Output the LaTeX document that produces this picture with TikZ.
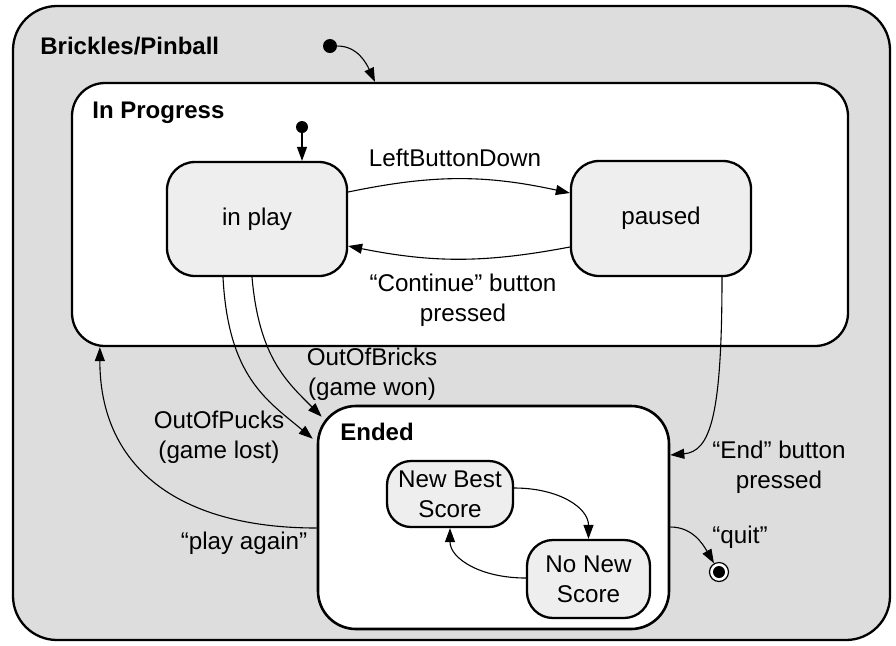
\documentclass[tikz,border=0pt]{standalone}
\usepackage{fontspec}
\setmainfont{Liberation Sans}
\usetikzlibrary{arrows.meta,calc}
\definecolor{bggray}{HTML}{DDDDDD}
\definecolor{stategray}{HTML}{EEEEEE}
\begin{document}
\begin{tikzpicture}[x=0.5pt,y=-0.5pt,
  font=\fontsize{12.1}{15}\selectfont,
  box/.style={draw, line width=1.15pt, inner sep=0pt},
  stbox/.style={box, fill=stategray, rounded corners=14pt, align=center},
  arr/.style={-{Triangle[length=7pt,width=5pt]}, line width=0.55pt},
  lbl/.style={align=center, inner sep=0pt},
  ttl/.style={anchor=base west, inner sep=0pt, font=\fontsize{12}{15}\selectfont\bfseries},
  dot/.style={circle, fill=black, inner sep=0pt}]
\useasboundingbox (0,0) rectangle (896,645);
% containers
\node[box, fill=bggray, rounded corners=22pt, minimum width=438.5pt, minimum height=317pt] (outer) at (451.5,323) {};
\node[box, fill=white, rounded corners=16.5pt, minimum width=388pt, minimum height=131.5pt] (inprog) at (460,214.5) {};
\node[box, fill=white, rounded corners=19pt, line width=1.3pt, minimum width=175.5pt, minimum height=111.5pt] (ended) at (493.5,517.5) {};
% titles
\node[ttl] (tBP) at (40,54.5) {Brickles/Pinball};
\node[ttl] (tIP) at (92,118.5) {In Progress};
\node[ttl] (tEn) at (340,440.5) {Ended};
% states
\node[stbox, minimum width=90pt, minimum height=57pt] (inplay) at (257,219) {in play};
\node[stbox, minimum width=90pt, minimum height=57.5pt] (paused) at (661,218.5) {paused};
\node[stbox, rounded corners=12pt, minimum width=63pt, minimum height=33pt] (newbest) at (450,494) {New Best\\Score};
\node[stbox, rounded corners=13pt, minimum width=61.5pt, minimum height=39pt] (nonew) at (588.5,579) {No New\\Score};
% initial and final pseudo-states
\node[dot, minimum size=7pt] (i1) at (330,46) {};
\node[dot, minimum size=6pt] (i2) at (302,127) {};
\node[circle, draw, line width=0.6pt, fill=white, minimum size=9.5pt, inner sep=0pt] (fin) at (719,572) {};
\node[dot, minimum size=6pt] (fin2) at (fin.center) {};
% transitions
\draw[arr] (i1) to[out=0, in=115] ([xshift=-42.5pt]inprog.north);
\draw[arr] (i2) -- ([xshift=22.5pt]inplay.north);
\draw[arr] ([yshift=13.5pt]inplay.east) to[bend left=12] ([yshift=12.75pt]paused.west);
\draw[arr] ([yshift=-14.25pt]paused.west) to[bend left=11] ([yshift=-13.5pt]inplay.east);
\draw[arr] ([xshift=30.5pt]paused.south) to[out=-90, in=5, out distance=70pt, in distance=20pt] ([yshift=31.25pt]ended.east);
\draw[arr] ([yshift=-4.75pt]ended.east) to[out=0, in=120] (fin);
\draw[arr] ([xshift=-2.5pt]inplay.south) to[out=-85, in=135, out distance=40pt, in distance=25pt] ([xshift=2.5pt,yshift=-6pt]ended.north west);
\draw[arr] ([xshift=-17pt]inplay.south) to[out=-87, in=140, out distance=50pt, in distance=30pt] ([xshift=-2pt,yshift=-17pt]ended.north west);
\draw[arr] ([yshift=-5.25pt]ended.west) to[out=180, in=-90, out distance=70.5pt, in distance=59pt] ([xshift=14.5pt]inprog.south west);
\draw[arr] ([yshift=3pt]newbest.east) to[out=0, in=90, out distance=22.5pt, in distance=15.5pt] (nonew.north);
\draw[arr] ([yshift=0.5pt]nonew.west) to[out=180, in=-90, out distance=23pt, in distance=15pt] (newbest.south);
% labels
\node[lbl] (lLBD) at (455,158) {LeftButtonDown};
\node[lbl] (lCont) at (463,300) {“Continue” button\\pressed};
\node[lbl] (lEnd) at (779,467) {“End” button\\pressed};
\node[lbl] (lBricks) at (372,374) {OutOfBricks\\(game won)};
\node[lbl] (lPucks) at (219,437) {OutOfPucks\\(game lost)};
\node[lbl] (lPlay) at (244,543) {“play again”};
\node[lbl] (lQuit) at (740,537) {“quit”};
\end{tikzpicture}
\end{document}
